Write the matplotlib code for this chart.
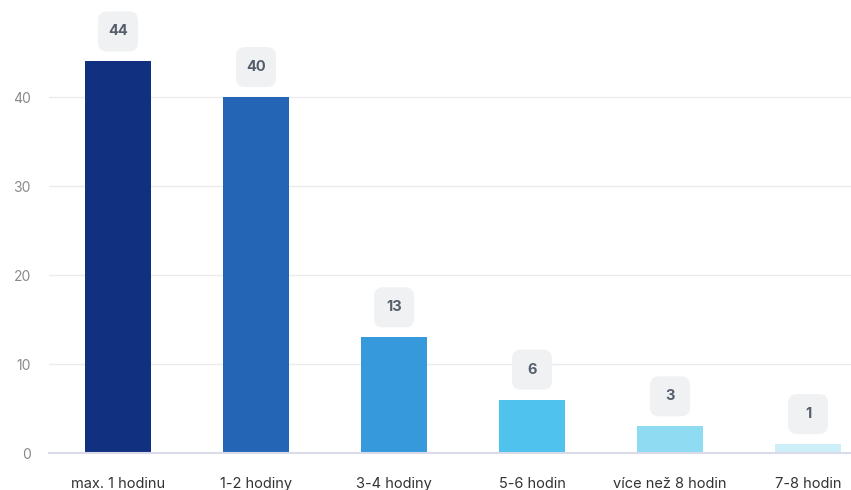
import matplotlib
matplotlib.use("Agg")
import matplotlib.pyplot as plt
import matplotlib.transforms as mtransforms
from matplotlib.patches import FancyBboxPatch

plt.rcParams['font.family'] = ['Inter', 'DejaVu Sans']

categories = ["max. 1 hodinu", "1-2 hodiny", "3-4 hodiny", "5-6 hodin", "více než 8 hodin", "7-8 hodin"]
values = [44, 40, 13, 6, 3, 1]
colors = ["#11307f", "#2466b5", "#3599dc", "#4fc3ee", "#8fdcf2", "#cdeff8"]

fig = plt.figure(figsize=(8.51, 4.9), dpi=100)
ax = fig.add_axes([0.0576, 0.0755, 0.973, 0.908])

x = list(range(len(categories)))
ax.bar(x, values, width=0.48, color=colors, zorder=2)

ax.set_xlim(-0.5, 5.5)
ax.set_ylim(0, 50)
ax.set_yticks([0, 10, 20, 30, 40])
ax.set_xticks(x)
ax.set_xticklabels(categories)
ax.grid(axis="y", color="#ebebeb", linewidth=1, zorder=0)
ax.tick_params(axis="y", length=0, pad=13, labelsize=10, labelcolor="#8a8a8a")
ax.tick_params(axis="x", length=0, pad=17, labelsize=10.5, labelcolor="#333333")
for side in ["top", "right", "left"]:
    ax.spines[side].set_visible(False)
ax.spines["bottom"].set_color("#d9dbe9")
ax.spines["bottom"].set_linewidth(1.5)

# value badges: fixed-size rounded boxes sitting above each bar (units in inches)
for xi, v in zip(x, values):
    tr = fig.dpi_scale_trans + mtransforms.ScaledTranslation(xi, v, ax.transData)
    box = FancyBboxPatch((-0.20, 0.10), 0.40, 0.40,
                         boxstyle="round,pad=0,rounding_size=0.09",
                         facecolor="#f0f1f2", edgecolor="none",
                         transform=tr, clip_on=False, zorder=3)
    ax.add_patch(box)
    ax.text(0, 0.30, str(v), transform=tr, ha="center", va="center",
            fontsize=10.5, fontweight="bold", color="#555e6b", zorder=4)

fig.savefig("out.png", dpi=100)
